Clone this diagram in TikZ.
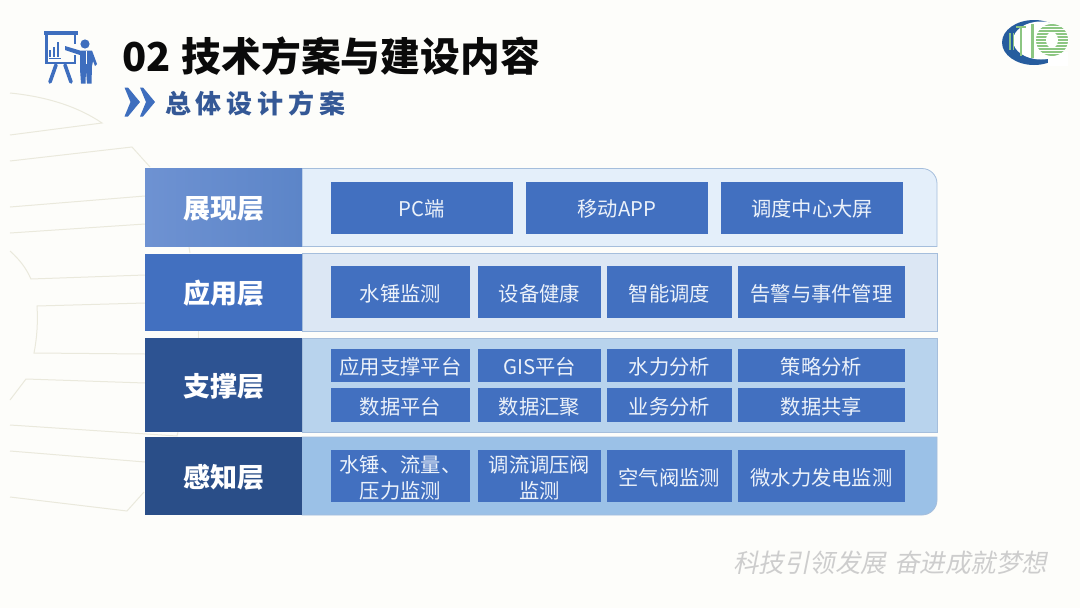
\documentclass[tikz,border=0pt]{standalone}
\usepackage{fontspec}
\setmainfont{Noto Sans CJK SC}
\newfontfamily\subfont[LetterSpace=18.5]{Noto Sans CJK SC}
\newfontfamily\slogfont[FakeSlant=0.2]{Noto Sans CJK SC}
\usepackage{xcolor}
\usetikzlibrary{shapes.geometric}
\definecolor{page}{RGB}{253,253,250}
\definecolor{ink}{RGB}{10,10,10}
\definecolor{cell}{RGB}{66,112,192}
\definecolor{celltext}{RGB}{236,242,250}
\definecolor{iconblue}{RGB}{62,110,190}
\definecolor{subnavy}{RGB}{52,88,150}
\definecolor{showlight}{RGB}{110,146,210}
\definecolor{showdark}{RGB}{92,133,200}
\definecolor{applayer}{RGB}{66,112,192}
\definecolor{suplayer}{RGB}{45,83,146}
\definecolor{senslayer}{RGB}{42,78,136}
\definecolor{showpanel}{RGB}{228,239,250}
\definecolor{apppanel}{RGB}{220,231,244}
\definecolor{suppanel}{RGB}{184,211,237}
\definecolor{senspanel}{RGB}{155,193,231}
\definecolor{panelline}{RGB}{165,190,220}
\definecolor{bgline}{RGB}{234,233,220}
\definecolor{slog}{RGB}{205,205,205}
\definecolor{logoblue}{RGB}{38,92,158}
\definecolor{logogreen}{RGB}{140,198,130}
\tikzset{
  bgstroke/.style={bgline,line width=1pt},
  panel/.style={draw=panelline,line width=0.8pt},
  layerbox/.style={minimum width=157pt,inner sep=0pt,text=white,align=center,
    font=\fontsize{27}{30}\selectfont\bfseries},
  cellbox/.style={fill=cell,inner sep=0pt,align=center,text=celltext,
    font=\fontsize{20.3}{26}\selectfont},
  iconfill/.style={fill=iconblue,draw=none},
  iconline/.style={iconblue,line width=2.2pt}
}
\newcommand{\celltop}{\rule{0pt}{20pt}}
\newcommand{\layertop}{\rule{0pt}{25.5pt}}
\begin{document}
\begin{tikzpicture}[x=1pt,y=-1pt]
  \useasboundingbox (0,0) rectangle (1080,608);
  \fill[page] (0,0) rectangle (1080,608);
  % background strokes
  \draw[bgstroke] (10,93) .. controls (50,97) and (80,108) .. (102,123) -- (10,135);
  \draw[bgstroke] (10,161) -- (132,147) -- (150,167);
  \draw[bgstroke] (10,207) -- (145,196);
  \draw[bgstroke] (10,233) -- (145,224);
  \draw[bgstroke] (10,251) .. controls (20,260) and (26,268) .. (31,279) -- (145,275);
  \draw[bgstroke] (145,303) -- (37,306) .. controls (38,322) and (37,338) .. (34,353) -- (145,354);
  \draw[bgstroke] (145,383) -- (26,379) -- (10,400);
  \draw[bgstroke] (10,425) -- (177,436) -- (178,432);
  \draw[bgstroke] (10,451) -- (145,462);
  \draw[bgstroke] (10,497) -- (127,511) -- (144,492);
  \draw[bgstroke] (189,247) -- (190,253);
  \draw[bgstroke] (198,331) -- (198,338);
  % presenter icon
  \fill[iconfill] (44,30.5) rectangle (78,34.5);
  \draw[iconline] (46.5,34) -- (46.5,63) -- (75,63) -- (75,55);
  \draw[iconline] (75,34) -- (75,44);
  \draw[iconline,line width=1.4pt] (49,58.5) -- (61,58.5);
  \foreach \bx/\by in {50/50,54/47,58/42} {\draw[iconline,line width=1.6pt] (\bx,\by) -- (\bx,57);}
  \draw[iconline,line width=3.6pt,line cap=round] (56,65) -- (50,82);
  \draw[iconline,line width=3.6pt,line cap=round] (65,65) -- (71,82);
  \fill[iconfill] (85,44) circle (4.6);
  \fill[iconfill] (65,46) -- (65,50) -- (80,55) -- (80,69) -- (81,83.5) -- (85.5,83.5) -- (86,70)
    -- (87,83.5) -- (91.5,83.5) -- (92,66) -- (93,61) -- (95,66) -- (97,64) -- (92,50.5) -- (80,50.5) -- cycle;
  \draw[page,line width=0.7pt] (86,51) -- (86,64);
  % title
  \node[anchor=west,inner sep=0pt,text=ink,font=\fontsize{39.8}{42}\selectfont\bfseries] (title) at (122,56) {02\hspace{11pt}技术方案与建设内容};
  \fill[iconfill] (124.5,87.5) -- (128,87.5) -- (140,102) -- (128,116.5) -- (124.5,116.5) -- (130.5,102) -- cycle;
  \fill[iconfill] (140,87.5) -- (143,87.5) -- (155,102) -- (143,116.5) -- (140,116.5) -- (146,102) -- cycle;
  \node[anchor=west,inner sep=0pt,text=subnavy,font=\subfont\fontsize{26}{28}\selectfont\bfseries] (subtitle) at (165,103) {总体设计方案};
  % logo
  \fill[logoblue] (1034,42.5) ellipse (32 and 22.5);
  \fill[white] (1041,40.5) ellipse (28 and 19);
  \fill[white] (1048,52) rectangle (1068,66);
  \foreach \sx in {1010,1013.5} {\draw[logogreen,line width=1.6pt] (\sx,33) -- (\sx,50);}
  \draw[logogreen,line width=2.4pt] (1021,28) -- (1021,56);
  \draw[logogreen,line width=2.2pt] (1016,27) -- (1026,27);
  \draw[logogreen,line width=3pt] (1032,24) -- (1032,58);
  \begin{scope}
    \clip (1052,40) circle (16);
    \foreach \sy in {25,28,...,55} {\draw[logogreen,line width=1.6pt] (1036,\sy) -- (1068,\sy);}
  \end{scope}
  \fill[white] (1052,40) ellipse (6 and 8);
  % panels
  \draw[panel,fill=showpanel] (302,168.5) -- (922,168.5) arc[start angle=-90,end angle=0,radius=15] -- (937,246.5) -- (302,246.5) -- cycle;
  \draw[panel,fill=apppanel] (302,253.5) rectangle (937,331);
  \draw[panel,fill=suppanel] (302,338) rectangle (937,432);
  \draw[panel,fill=senspanel] (302,437) -- (937,437) -- (937,500) arc[start angle=0,end angle=90,radius=15] -- (302,515) -- cycle;
  % layer titles
  \node[layerbox,minimum height=78.5pt,left color=showlight,right color=showdark] (showlayer) at (223.5,207.25) {\layertop 展现层};
  \node[layerbox,minimum height=77.5pt,fill=applayer] (applyr) at (223.5,292.25) {\layertop 应用层};
  \node[layerbox,minimum height=94pt,fill=suplayer] (suplyr) at (223.5,385) {\layertop 支撑层};
  \node[layerbox,minimum height=78pt,fill=senslayer] (senslyr) at (223.5,476) {\layertop 感知层};
  % cells
  \foreach \nm/\cx/\txt in {pc/422/PC端,app/617/移动APP,screen/812/调度中心大屏}
    {\node[cellbox,minimum width=182pt,minimum height=52.5pt] (\nm) at (\cx,207.75) {\celltop\txt};}
  \foreach \nm/\cx/\wid/\txt in {hammer/400.5/139/水锤监测,health/539.5/123/设备健康,dispatch/669.3/125/智能调度,alarm/821.5/167/告警与事件管理}
    {\node[cellbox,minimum width=\wid pt,minimum height=52pt] (\nm) at (\cx,292) {\celltop\txt};}
  \foreach \nm/\cx/\wid/\txt in {support/400.5/139/应用支撑平台,gis/539.5/123/GIS平台,hydro/669.3/125/水力分析,policy/821.5/167/策略分析}
    {\node[cellbox,minimum width=\wid pt,minimum height=33pt] (\nm) at (\cx,365.5) {\celltop\txt};}
  \foreach \nm/\cx/\wid/\txt in {dataplat/400.5/139/数据平台,gather/539.5/123/数据汇聚,business/669.3/125/业务分析,share/821.5/167/数据共享}
    {\node[cellbox,minimum width=\wid pt,minimum height=33.5pt] (\nm) at (\cx,405) {\celltop\txt};}
  \foreach \nm/\cx/\wid/\txt in {flow/400.5/139/{水锤、流量、\\压力监测},valve/539.5/123/{调流调压阀\\监测},air/669.3/125/空气阀监测,micro/821.5/167/微水力发电监测}
    {\node[cellbox,minimum width=\wid pt,minimum height=52pt] (\nm) at (\cx,476) {\celltop\txt};}
  % slogan
  \node[anchor=west,inner sep=0pt,text=slog,font=\slogfont\fontsize{25.5}{28}\selectfont] (slogan) at (733,563) {科技引领发展\hspace{8pt}奋进成就梦想};
\end{tikzpicture}
\end{document}
